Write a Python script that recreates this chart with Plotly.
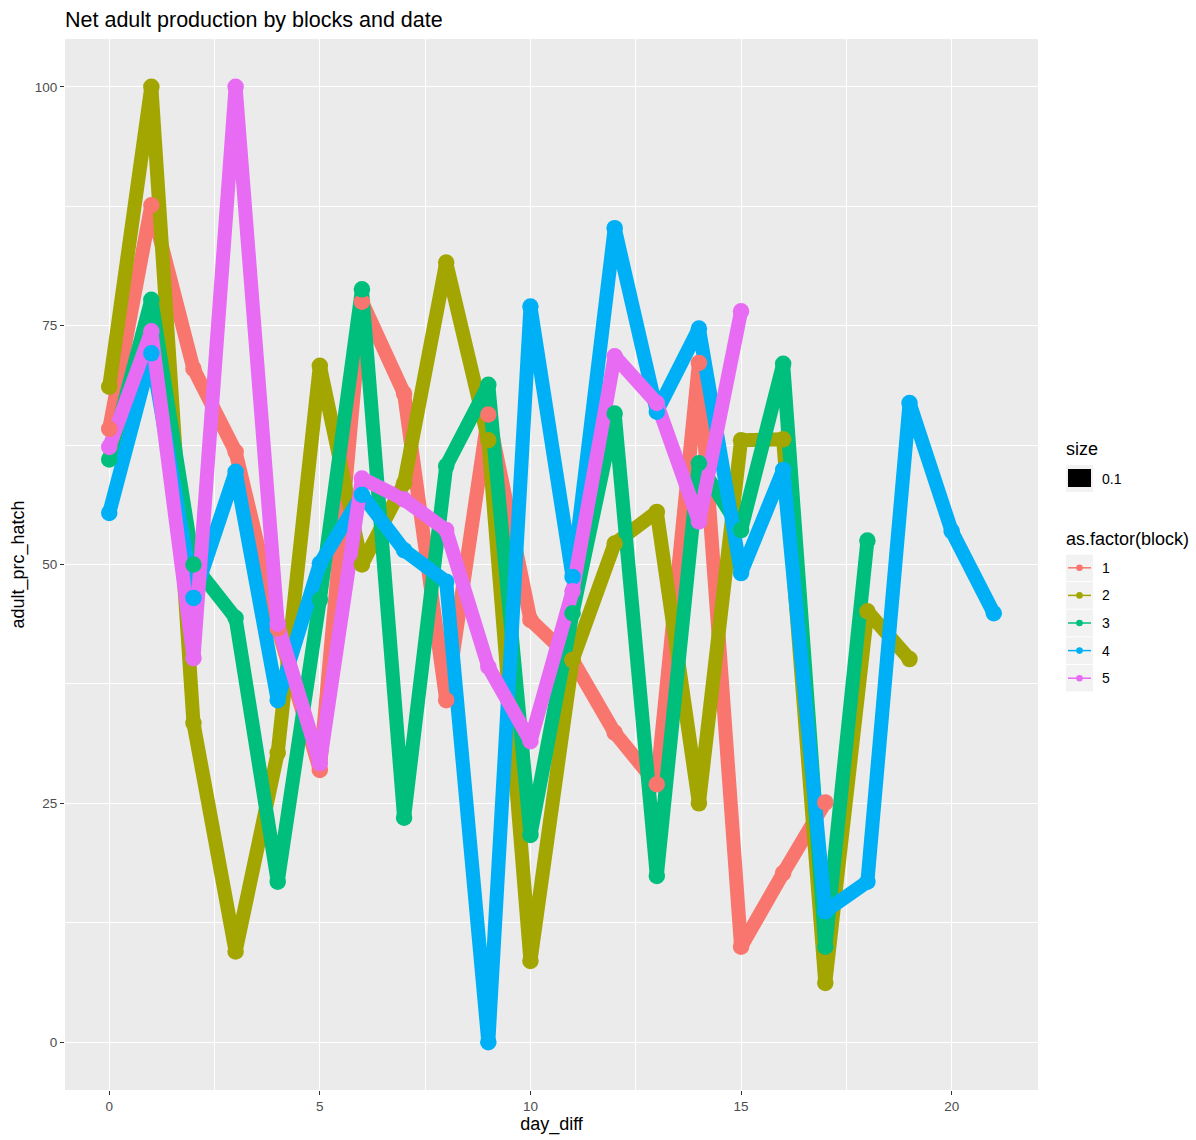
import plotly.graph_objects as go

# ---------------- data ----------------
chart_title = "Net adult production by blocks and date"
x_title = "day_diff"
y_title = "adult_prc_hatch"

blocks = ["1", "2", "3", "4", "5"]
colors = ["#F8766D", "#A3A500", "#00BF7D", "#00B0F6", "#E76BF3"]

day_b1 = list(range(0, 18))
prc_b1 = [64.2, 87.6, 70.5, 61.8, 43.3, 28.5, 77.5, 67.9, 35.8, 65.7,
          44.2, 40.0, 32.4, 27.0, 71.1, 10.0, 17.7, 25.1]

day_b2 = list(range(0, 20))
prc_b2 = [68.6, 100.0, 33.4, 9.5, 30.3, 70.8, 50.0, 58.5, 81.6, 63.0,
          8.5, 40.0, 52.2, 55.5, 25.0, 63.0, 63.1, 6.2, 45.1, 40.1]

day_b3 = list(range(0, 19))
prc_b3 = [61.0, 77.7, 50.0, 44.4, 16.8, 46.3, 78.8, 23.5, 60.3, 68.8,
          21.7, 44.9, 65.8, 17.4, 60.6, 53.6, 71.0, 10.0, 52.5]

day_b4 = list(range(0, 22))
prc_b4 = [55.4, 72.1, 46.5, 59.7, 35.8, 50.1, 57.3, 51.5, 48.2, 0.0,
          77.0, 48.7, 85.2, 66.0, 74.7, 49.1, 59.9, 13.7, 16.8, 66.9,
          53.5, 44.9]

day_b5 = list(range(0, 16))
prc_b5 = [62.3, 74.4, 40.2, 100.0, 43.8, 29.2, 59.0, 56.8, 53.6, 39.3,
          31.5, 47.2, 71.8, 66.9, 54.5, 76.5]

x_ticks = [0, 5, 10, 15, 20]
y_ticks = [0, 25, 50, 75, 100]
x_minor = [2.5, 7.5, 12.5, 17.5]
y_minor = [12.5, 37.5, 62.5, 87.5]

size_legend_title = "size"
size_legend_label = "0.1"
block_legend_title = "as.factor(block)"

# ---------------- layout geometry ----------------
W, H = 1196, 1140
L, R, T, B = 65, 158, 39, 50
PW, PH = W - L - R, H - T - B


def fx(px):
    return (px - L) / PW


def fy(py):
    return (H - B - py) / PH


FONT = "Liberation Sans, Arial, sans-serif"
TITLE_SIZE = 21.5
AXIS_TITLE_SIZE = 18
TICK_SIZE = 13.5
LEG_TITLE_SIZE = 18
LEG_LABEL_SIZE = 14

days = [day_b1, day_b2, day_b3, day_b4, day_b5]
prcs = [prc_b1, prc_b2, prc_b3, prc_b4, prc_b5]

fig = go.Figure()

# lines first (all groups), then points (all groups), as in ggplot layering
for d, p, c, b in zip(days, prcs, colors, blocks):
    fig.add_trace(go.Scatter(x=d, y=p, mode="lines", name=b,
                             line=dict(color=c, width=14),
                             showlegend=False, hoverinfo="skip"))
for d, p, c, b in zip(days, prcs, colors, blocks):
    fig.add_trace(go.Scatter(x=d, y=p, mode="markers", name=b,
                             marker=dict(color=c, size=16.5, line=dict(width=0)),
                             showlegend=False))

# ---------------- manual ggplot-like legend ----------------
shapes = []
annotations = []
key_x0, key_x1 = 1066, 1093
label_x = 1100

annotations.append(dict(text=size_legend_title, x=fx(1064), y=fy(449),
                        xref="paper", yref="paper", xanchor="left", yanchor="middle",
                        showarrow=False, font=dict(family=FONT, size=LEG_TITLE_SIZE, color="black")))
shapes.append(dict(type="rect", xref="paper", yref="paper",
                   x0=fx(key_x0), x1=fx(key_x1), y0=fy(465), y1=fy(492),
                   fillcolor="#F2F2F2", line=dict(width=0), layer="above"))
shapes.append(dict(type="rect", xref="paper", yref="paper",
                   x0=fx(1068), x1=fx(1091), y0=fy(469), y1=fy(487),
                   fillcolor="black", line=dict(width=0), layer="above"))
annotations.append(dict(text=size_legend_label, x=fx(label_x), y=fy(479),
                        xref="paper", yref="paper", xanchor="left", yanchor="middle",
                        showarrow=False, font=dict(family=FONT, size=LEG_LABEL_SIZE, color="black")))

annotations.append(dict(text=block_legend_title, x=fx(1064), y=fy(539),
                        xref="paper", yref="paper", xanchor="left", yanchor="middle",
                        showarrow=False, font=dict(family=FONT, size=LEG_TITLE_SIZE, color="black")))
key_top = 554
key_h = 27.6
for i, (b, c) in enumerate(zip(blocks, colors)):
    y0 = key_top + i * key_h
    yc = y0 + key_h / 2
    shapes.append(dict(type="rect", xref="paper", yref="paper",
                       x0=fx(key_x0), x1=fx(key_x1), y0=fy(y0 + 0.5), y1=fy(y0 + key_h - 0.5),
                       fillcolor="#F2F2F2", line=dict(width=0), layer="above"))
    shapes.append(dict(type="line", xref="paper", yref="paper",
                       x0=fx(1068), x1=fx(1091), y0=fy(yc), y1=fy(yc),
                       line=dict(color=c, width=1.5), layer="above"))
    shapes.append(dict(type="circle", xref="paper", yref="paper",
                       x0=fx(1079.5 - 3.3), x1=fx(1079.5 + 3.3),
                       y0=fy(yc - 3.3), y1=fy(yc + 3.3),
                       fillcolor=c, line=dict(width=0), layer="above"))
    annotations.append(dict(text=b, x=fx(label_x), y=fy(yc),
                            xref="paper", yref="paper", xanchor="left", yanchor="middle",
                            showarrow=False, font=dict(family=FONT, size=LEG_LABEL_SIZE, color="black")))

axis_common = dict(
    showgrid=True, gridcolor="white", gridwidth=1.1, zeroline=False,
    ticks="outside", ticklen=4, tickwidth=1.1, tickcolor="#333333",
    tickfont=dict(family=FONT, size=TICK_SIZE, color="#4D4D4D"),
    showline=False, automargin=False,
)

fig.update_layout(
    width=W, height=H,
    margin=dict(l=L, r=R, t=T, b=B, pad=0),
    paper_bgcolor="white", plot_bgcolor="#EBEBEB",
    showlegend=False,
    title=dict(text=chart_title, x=0, xref="paper", xanchor="left",
               y=1 - 19 / H, yref="container", yanchor="middle",
               font=dict(family=FONT, size=TITLE_SIZE, color="black")),
    xaxis=dict(range=[-1.05, 22.05], tickvals=x_ticks,
               ticktext=[str(v) for v in x_ticks],
               minor=dict(tickvals=x_minor, showgrid=True, gridcolor="white",
                          gridwidth=0.55, ticks=""),
               title=dict(text=x_title, standoff=3,
                          font=dict(family=FONT, size=AXIS_TITLE_SIZE, color="black")),
               **axis_common),
    yaxis=dict(range=[-5, 105], tickvals=y_ticks,
               ticktext=[str(v) for v in y_ticks],
               minor=dict(tickvals=y_minor, showgrid=True, gridcolor="white",
                          gridwidth=0.55, ticks=""),
               title=dict(text=y_title, standoff=5,
                          font=dict(family=FONT, size=AXIS_TITLE_SIZE, color="black")),
               **axis_common),
    shapes=shapes,
    annotations=annotations,
)

post = ("var s=document.createElement('style');"
        "s.innerHTML='html,body{margin:0;padding:0;} .js-line{stroke-linejoin:round !important;}';"
        "document.head.appendChild(s);")
fig.write_html("out.html", post_script=post, config={"displayModeBar": False})
